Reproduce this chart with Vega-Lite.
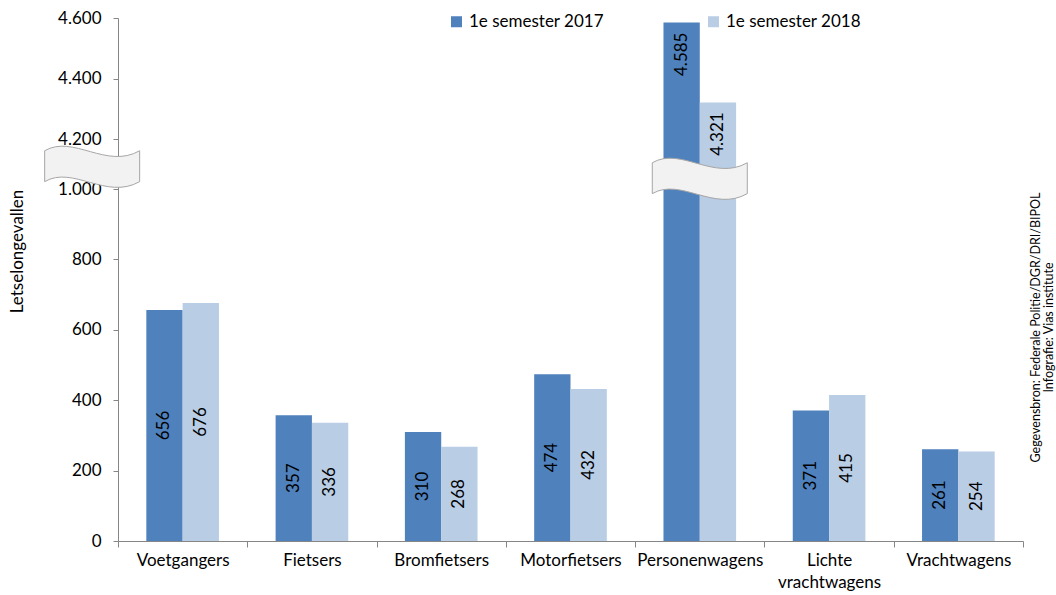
{
  "$schema": "https://vega.github.io/schema/vega-lite/v6.json",
  "width": 905,
  "height": 523,
  "autosize": {"type": "none"},
  "padding": {"left": 118, "top": 18, "right": 33, "bottom": 54},
  "background": "white",
  "config": {
    "font": "Lato",
    "view": {"stroke": null},
    "axis": {"labelColor": "#000000", "titleColor": "#000000", "domainColor": "#868686", "tickColor": "#868686", "grid": false, "labelFontSize": 17, "titleFontSize": 17, "titleFontWeight": "normal", "labelFont": "Lato", "titleFont": "Lato"}
  },
  "title": {
    "text": ["Gegevensbron: Federale Politie/DGR/DRI/BIPOL", "Infografie: Vias institute"],
    "orient": "right",
    "anchor": "middle",
    "angle": -90,
    "baseline": "top",
    "align": "center",
    "offset": -20,
    "dx": -48,
    "fontSize": 12.5,
    "fontWeight": "normal",
    "font": "Lato",
    "color": "#000000",
    "lineHeight": 13.5
  },
  "data": {
    "values": [
      {"categorie": "Voetgangers", "jaar": "1e semester 2017", "aantal": 656},
      {"categorie": "Voetgangers", "jaar": "1e semester 2018", "aantal": 676},
      {"categorie": "Fietsers", "jaar": "1e semester 2017", "aantal": 357},
      {"categorie": "Fietsers", "jaar": "1e semester 2018", "aantal": 336},
      {"categorie": "Bromfietsers", "jaar": "1e semester 2017", "aantal": 310},
      {"categorie": "Bromfietsers", "jaar": "1e semester 2018", "aantal": 268},
      {"categorie": "Motorfietsers", "jaar": "1e semester 2017", "aantal": 474},
      {"categorie": "Motorfietsers", "jaar": "1e semester 2018", "aantal": 432},
      {"categorie": "Personenwagens", "jaar": "1e semester 2017", "aantal": 4585},
      {"categorie": "Personenwagens", "jaar": "1e semester 2018", "aantal": 4321},
      {"categorie": "Lichte vrachtwagens", "jaar": "1e semester 2017", "aantal": 371},
      {"categorie": "Lichte vrachtwagens", "jaar": "1e semester 2018", "aantal": 415},
      {"categorie": "Vrachtwagens", "jaar": "1e semester 2017", "aantal": 261},
      {"categorie": "Vrachtwagens", "jaar": "1e semester 2018", "aantal": 254}
    ]
  },
  "encoding": {
    "x": {
      "field": "categorie", "type": "nominal", "sort": null,
      "scale": {"paddingInner": 0, "paddingOuter": 0},
      "axis": {
        "title": null, "labelAngle": 0, "tickBand": "extent", "tickSize": 6, "labelPadding": 5,
        "labelBaseline": "top", "labelLineHeight": 22,
        "labelExpr": "datum.value == 'Lichte vrachtwagens' ? ['Lichte', 'vrachtwagens'] : datum.value"
      }
    }
  },
  "layer": [
    {
      "mark": {"type": "bar"},
      "encoding": {
        "xOffset": {"field": "jaar", "type": "nominal", "scale": {"paddingInner": 0, "paddingOuter": 0.78}},
        "y": {
          "field": "aantal", "type": "quantitative",
          "scale": {"domain": [0, 1000, 4200, 4600], "range": [523, 171, 121, 0], "nice": false, "zero": false},
          "axis": {
            "title": "Letselongevallen", "values": [0, 200, 400, 600, 800, 1000, 4200, 4400, 4600],
            "labelExpr": "replace(format(datum.value, ','), ',', '.')",
            "tickSize": 5, "labelPadding": 12,
            "titleX": -101, "titleY": 233, "titleAngle": -90, "titleAlign": "center", "titleBaseline": "middle"
          }
        },
        "color": {
          "field": "jaar", "type": "nominal",
          "scale": {"range": ["#4F81BD", "#B9CDE5"]},
          "legend": {
            "title": null, "orient": "none", "legendX": 330, "legendY": -5, "direction": "horizontal",
            "symbolType": "square", "symbolSize": 121, "symbolStrokeWidth": 0, "labelFontSize": 17,
            "labelColor": "#000000", "columnPadding": 101, "labelFont": "Lato"
          }
        }
      }
    },
    {
      "transform": [{"filter": "datum.aantal < 1000"}, {"calculate": "datum.aantal / 2", "as": "midden"}],
      "mark": {"type": "text", "angle": 270, "align": "center", "baseline": "middle", "fontSize": 17, "color": "#000000"},
      "encoding": {
        "xOffset": {"field": "jaar", "type": "nominal"},
        "y": {"field": "midden", "type": "quantitative"},
        "text": {"field": "aantal", "type": "quantitative", "format": "d"}
      }
    },
    {
      "transform": [{"filter": "datum.aantal >= 1000"}, {"calculate": "replace(format(datum.aantal, ','), ',', '.')", "as": "label"}],
      "mark": {"type": "text", "angle": 270, "align": "right", "baseline": "middle", "fontSize": 17, "color": "#000000", "dx": -10},
      "encoding": {
        "xOffset": {"field": "jaar", "type": "nominal"},
        "y": {"field": "aantal", "type": "quantitative"},
        "text": {"field": "label", "type": "nominal"}
      }
    },
    {
      "data": {"values": [{}]},
      "mark": {
        "type": "point", "filled": true, "opacity": 1, "fill": "#F2F2F2", "stroke": "#A6A6A6", "strokeWidth": 1, "size": 9025,
        "shape": "M-1,-0.3 C-0.4,-0.65 0.3,0.1 1,-0.3 L1,0.35 C0.3,0.75 -0.4,0 -1,0.35 Z"
      },
      "encoding": {
        "x": {"datum": "Personenwagens"},
        "y": {"datum": 1768}
      }
    },
    {
      "data": {"values": [{}]},
      "mark": {
        "type": "point", "filled": true, "opacity": 1, "fill": "#F2F2F2", "stroke": "#A6A6A6", "strokeWidth": 1, "size": 9025,
        "shape": "M-1,-0.3 C-0.4,-0.65 0.3,0.1 1,-0.3 L1,0.35 C0.3,0.75 -0.4,0 -1,0.35 Z"
      },
      "encoding": {
        "x": {"datum": "Voetgangers", "bandPosition": -0.2},
        "y": {"datum": 2536}
      }
    }
  ]
}
